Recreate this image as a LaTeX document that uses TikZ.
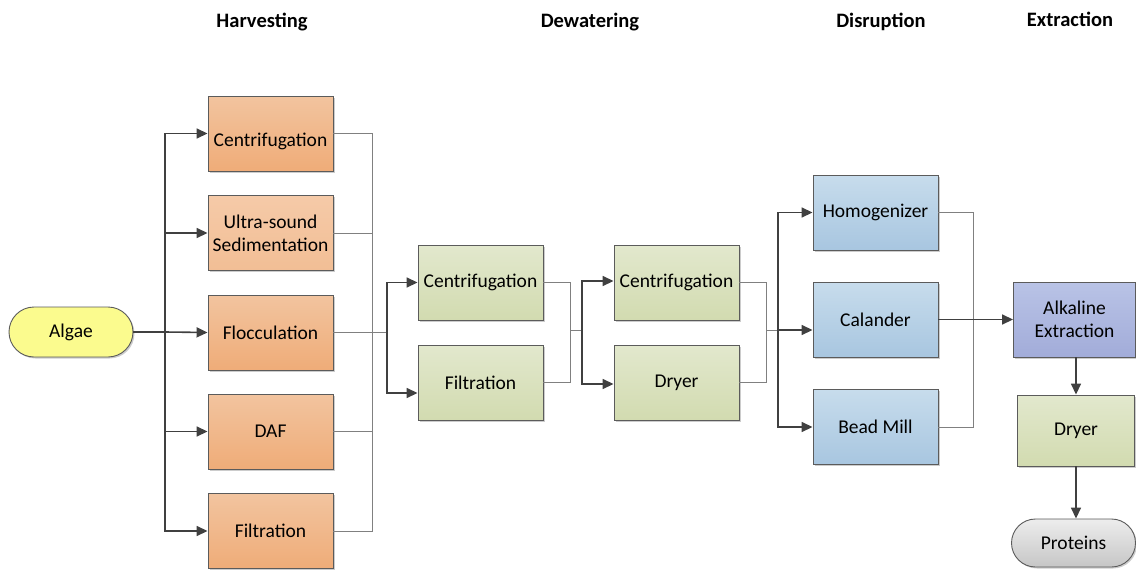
\documentclass[tikz,border=0pt]{standalone}
\usepackage{fontspec}
\setmainfont{Carlito}
\usetikzlibrary{arrows.meta,shapes.misc,shadows}
\definecolor{orT}{HTML}{F2C49F}
\definecolor{orB}{HTML}{EFAC78}
\definecolor{orLT}{HTML}{F5CAA8}
\definecolor{orLB}{HTML}{F2BE95}
\definecolor{grT}{HTML}{E2E8CD}
\definecolor{grB}{HTML}{D2DBB0}
\definecolor{blT}{HTML}{C7DCEC}
\definecolor{blB}{HTML}{A8C6E0}
\definecolor{lvT}{HTML}{B9C3E6}
\definecolor{lvB}{HTML}{A2ACD9}
\definecolor{yel}{HTML}{FBFB8E}
\definecolor{gyT}{HTML}{EDEDED}
\definecolor{gyB}{HTML}{C6C6C6}
\definecolor{edge}{HTML}{5B5B5B}
\definecolor{arrc}{HTML}{404040}
\definecolor{thin}{HTML}{808080}
\tikzset{
  x=1pt,y=-1pt,
  txt/.style={font=\fontsize{19.5}{23}\selectfont,align=center,inner sep=0pt},
  box/.style={draw=edge,line width=0.9pt,minimum width=125pt,minimum height=75pt,inner sep=0pt,txt,
    drop shadow={shadow xshift=1.5pt,shadow yshift=-1.5pt,fill=black,opacity=0.2}},
  orbox/.style={box,top color=orT,bottom color=orB},
  orlbox/.style={box,top color=orLT,bottom color=orLB},
  grbox/.style={box,top color=grT,bottom color=grB},
  blbox/.style={box,top color=blT,bottom color=blB},
  lvbox/.style={box,top color=lvT,bottom color=lvB},
  pill/.style={draw=edge,line width=0.9pt,rounded rectangle,txt,
    drop shadow={shadow xshift=1.5pt,shadow yshift=-1.5pt,fill=black,opacity=0.2}},
  head/.style={font=\fontsize{20.5}{24}\selectfont\bfseries},
  arr/.style={draw=arrc,line width=1.6pt,-{Triangle[length=11pt,width=10pt]}},
  ln/.style={draw=arrc,line width=1.6pt},
  mg/.style={draw=thin,line width=1pt},
}
\begin{document}
\begin{tikzpicture}
\useasboundingbox (0,0) rectangle (1136,570);
% headings
\node[head] (hHarv) at (262,22) {Harvesting};
\node[head] (hDew) at (590,22) {Dewatering};
\node[head] (hDis) at (881,22) {Disruption};
\node[head] (hExt) at (1070,19) {Extraction};
% nodes
\node[pill,fill=yel,minimum width=124pt,minimum height=50pt] (algae) at (71,332) {Algae};
\node[orbox] (h1) at (270.5,133.5) {};
\node[txt] (h1t) at (270.5,141) {Centrifugation};
\node[orlbox] (h2) at (270.5,233) {Ultra-sound\\Sedimentation};
\node[orbox] (h3) at (270.5,332.5) {Flocculation};
\node[orbox] (h4) at (270.5,431.5) {DAF};
\node[orbox] (h5) at (270.5,531) {Filtration};
\node[grbox] (d1) at (480.5,282.5) {Centrifugation};
\node[grbox] (d2) at (480.5,382.5) {Filtration};
\node[grbox] (e1) at (676.5,282.5) {Centrifugation};
\node[grbox] (e2) at (676.5,382.5) {Dryer};
\node[blbox] (r1) at (875.5,212.5) {Homogenizer};
\node[blbox] (r2) at (875.5,319.5) {Calander};
\node[blbox] (r3) at (875.5,427) {Bead Mill};
\node[lvbox,minimum width=122pt] (ak) at (1074.5,319.5) {Alkaline\\Extraction};
\node[grbox,minimum width=117pt,minimum height=71pt] (dr) at (1076,430.5) {Dryer};
\node[pill,top color=gyT,bottom color=gyB,minimum width=124pt,minimum height=48pt] (pr) at (1073.5,543) {Proteins};
% coordinates
\coordinate (s0) at (165,332);
\coordinate (m1) at (372,332);
\coordinate (m1b) at (387,332.5);
\coordinate (m2) at (570,330);
\coordinate (m2b) at (582,330);
\coordinate (m3) at (766,330);
\coordinate (m3b) at (778,330);
\coordinate (m4) at (973,320);
% algae to harvesting
\draw[ln] (algae.east) -- (s0);
\draw[arr] (s0) |- (h1.west);
\draw[arr] (s0) |- (h2.west);
\draw[arr] (s0) -- (h3.west);
\draw[arr] (s0) |- (h4.west);
\draw[arr] (s0) |- (h5.west);
% harvesting merge
\draw[mg] (h1.east) -| (m1);
\draw[mg] (h2.east) -| (m1);
\draw[mg] (h4.east) -| (m1);
\draw[mg] (h5.east) -| (m1);
\draw[mg] (h3.east) -- (m1b);
\draw[arr] (m1b) |- (d1.west);
\draw[arr] (m1b) |- ([yshift=-10.5pt]d2.west);
% dewatering 1 merge
\draw[mg] (d1.east) -| (m2);
\draw[mg] (d2.east) -| (m2);
\draw[mg] (m2) -- (m2b);
\draw[arr] (m2b) |- ([yshift=1.5pt]e1.west);
\draw[arr] (m2b) |- ([yshift=-1.5pt]e2.west);
% dewatering 2 merge
\draw[mg] (e1.east) -| (m3);
\draw[mg] (e2.east) -| (m3);
\draw[mg] (m3) -- (m3b);
\draw[arr] (m3b) |- (r1.west);
\draw[arr] (m3b) -- ([yshift=-10.5pt]r2.west);
\draw[arr] (m3b) |- (r3.west);
% disruption merge
\draw[mg] (r1.east) -| (m4);
\draw[mg] (r3.east) -| (m4);
\draw[arr] (r2.east) -- (ak.west);
% extraction chain
\draw[arr] (ak.south -| dr.north) -- (dr.north);
\draw[arr] (dr.south) -- (dr.south |- pr.north);
\end{tikzpicture}
\end{document}
